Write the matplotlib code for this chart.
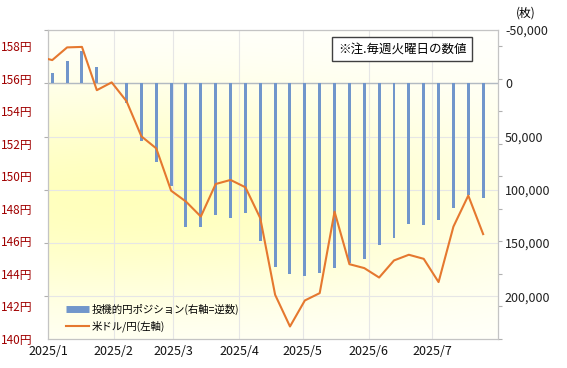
import numpy as np
import pandas as pd
import matplotlib
matplotlib.use("Agg")
import matplotlib.pyplot as plt
from matplotlib.lines import Line2D
from matplotlib.ticker import FuncFormatter

plt.rcParams['font.family'] = ['Noto Sans CJK JP', 'DejaVu Sans']

# weekly data (positions in contracts, right axis inverted)
week_dates = ['2025-01-03', '2025-01-10', '2025-01-17', '2025-01-24', '2025-01-31',
              '2025-02-07', '2025-02-14', '2025-02-21', '2025-02-28', '2025-03-07',
              '2025-03-14', '2025-03-21', '2025-03-28', '2025-04-04', '2025-04-11',
              '2025-04-18', '2025-04-25', '2025-05-02', '2025-05-09', '2025-05-16',
              '2025-05-23', '2025-05-30', '2025-06-06', '2025-06-13', '2025-06-20',
              '2025-06-27', '2025-07-04', '2025-07-11', '2025-07-18', '2025-07-25']
positions = [-9400, -21200, -30300, -15600, 0,
             18800, 54200, 74000, 96300, 134500,
             134500, 123500, 126000, 122000, 148000,
             172600, 178900, 180500, 177600, 173000,
             168300, 165100, 152000, 145400, 131700,
             133200, 128200, 117000, 104800, 107300]

# USD/JPY, one extra point before the window (clipped at the left edge)
price_dates = ['2024-12-27'] + week_dates
prices = [157.38, 157.15, 157.93, 157.96, 155.30, 155.78,
          154.62, 152.46, 151.72, 149.12, 148.45,
          147.53, 149.53, 149.78, 149.33, 147.43,
          142.72, 140.77, 142.37, 142.82, 147.83,
          144.60, 144.36, 143.78, 144.83, 145.18,
          144.93, 143.50, 146.91, 148.82, 146.45]

month_ticks = ['2025-01-01', '2025-02-01', '2025-03-01', '2025-04-01',
               '2025-05-01', '2025-06-01', '2025-07-01']
month_labels = ['2025/1', '2025/2', '2025/3', '2025/4', '2025/5', '2025/6', '2025/7']
left_ticks = [140, 142, 144, 146, 148, 150, 152, 154, 156, 158]
right_ticks = [-50000, 0, 50000, 100000, 150000, 200000]

bar_color = '#7196CB'
line_color = '#E5782F'
spine_color = '#C4C4C4'

fig = plt.figure(figsize=(5.67, 3.68), dpi=100)
ax = fig.add_axes([48 / 567, 29 / 368, 450 / 567, 309 / 368])
ax2 = ax.twinx()

# soft yellow background
ny, nx = 200, 300
yy, xx = np.mgrid[0:1:ny * 1j, 0:1:nx * 1j]
w = np.exp(-((xx - 0.15) / 0.95) ** 2 - ((yy - 0.45) / 0.36) ** 2)
tint = np.array([0.0, 0.0, 0.26])
img = 1 - w[..., None] * tint
ax.imshow(img, extent=[0, 1, 0, 1], transform=ax.transAxes, origin='lower',
          aspect='auto', zorder=0, interpolation='bilinear')

# positions
ax.bar(pd.to_datetime(week_dates), positions, width=1.4, color=bar_color, zorder=2)
ax.axhline(0, color='#B2BAC2', lw=1, zorder=1.5)
ax.set_ylim(240000, -50000)
ax.set_yticks(right_ticks)
ax.yaxis.set_major_formatter(FuncFormatter(lambda v, p: f'{int(v):,}'))
ax.tick_params(axis='y', left=True, right=False, labelleft=False, labelright=True,
               length=3, pad=2, color='#B0B0B0', labelcolor='#222222', labelsize=9)

ax.set_xlim(pd.Timestamp('2025-01-01'), pd.Timestamp('2025-08-01'))
ax.set_xticks(pd.to_datetime(month_ticks))
ax.set_xticklabels(month_labels)
ax.tick_params(axis='x', length=0, pad=4, labelsize=9, labelcolor='#111111')

ax.set_axisbelow(True)
ax.grid(True, color='#E6E6E6', lw=0.8)

# USD/JPY line
ax2.plot(pd.to_datetime(price_dates), prices, color=line_color, lw=1.5, zorder=3)
ax2.set_ylim(140, 159)
ax2.set_yticks(left_ticks)
ax2.set_yticklabels([f'{v}円' for v in left_ticks])
ax2.tick_params(axis='y', left=False, right=True, labelleft=True, labelright=False,
                length=3, pad=8, color='#B0B0B0', labelcolor='#A00000', labelsize=8.5)
ax2.set_xlim(pd.Timestamp('2025-01-01'), pd.Timestamp('2025-08-01'))

for a in (ax, ax2):
    for s in a.spines.values():
        s.set_color(spine_color)

handles = [Line2D([], [], color=bar_color, lw=5, solid_capstyle='butt'),
           Line2D([], [], color=line_color, lw=1.5)]
labels = ['投機的円ポジション(右軸=逆数)', '米ドル/円(左軸)']
ax2.legend(handles, labels, loc='lower left', bbox_to_anchor=(0.04, 0.022),
           frameon=False, fontsize=7.5, handlelength=2.2, handletextpad=0.3,
           labelspacing=0.55, borderpad=0, borderaxespad=0)

fig.text(402 / 567, 1 - 49 / 368, '※注.毎週火曜日の数値', ha='center', va='center',
         fontsize=9, bbox=dict(boxstyle='square,pad=0.45', fc='white', ec='#404040', lw=1))
fig.text(526 / 567, 1 - 13 / 368, '(枚)', ha='center', va='center', fontsize=8.5)

fig.savefig('out.png', dpi=100)
